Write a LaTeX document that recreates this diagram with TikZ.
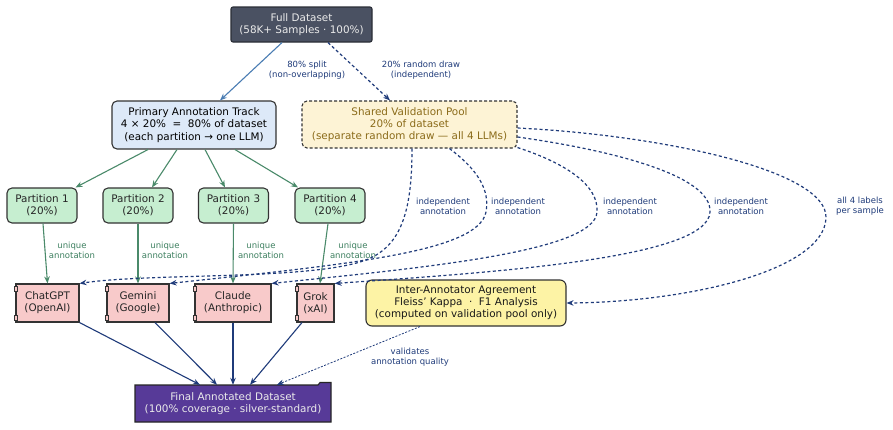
\documentclass[tikz,border=0pt]{standalone}
\usepackage{fontspec}
\setmainfont{DejaVu Sans}
\usetikzlibrary{arrows.meta}
\definecolor{fullfill}{HTML}{4A5162}
\definecolor{fulldraw}{HTML}{2A2E36}
\definecolor{primfill}{HTML}{DDE9F8}
\definecolor{poolfill}{HTML}{FDF3D5}
\definecolor{pooltext}{HTML}{8B6B1A}
\definecolor{partfill}{HTML}{C6EED0}
\definecolor{llmfill}{HTML}{F8CACA}
\definecolor{iaafill}{HTML}{FDF3A5}
\definecolor{finalfill}{HTML}{573A98}
\definecolor{navy}{HTML}{1F3B7A}
\definecolor{steel}{HTML}{4A7DB3}
\definecolor{grn}{HTML}{4A8A6A}
\definecolor{grntext}{HTML}{3E8060}
\definecolor{bord}{HTML}{333333}
\tikzset{
  nodefont/.style={font=\fontsize{10.4}{12.2}\selectfont},
  box/.style={nodefont, draw=bord, line width=1.1pt, align=center, inner sep=0pt},
  fullbox/.style={box, fill=fullfill, draw=fulldraw, text=white!92!black, rounded corners=2pt, minimum width=141pt, minimum height=35pt},
  primbox/.style={box, fill=primfill, rounded corners=5pt, minimum width=164pt, minimum height=48pt},
  poolbox/.style={box, fill=poolfill, text=pooltext, dash pattern=on 3pt off 2pt, rounded corners=5pt, minimum width=215pt, minimum height=47pt},
  partbox/.style={box, fill=partfill, text=black!85, rounded corners=5pt, minimum width=70pt, minimum height=35pt},
  llmbox/.style={box, fill=llmfill, text=black!85, minimum height=38pt},
  iaabox/.style={box, fill=iaafill, text=black!90, rounded corners=6pt, minimum width=200pt, minimum height=46pt},
  finaltext/.style={nodefont, text=white!92!black, align=center, inner sep=0pt, minimum width=196pt, minimum height=37pt},
  lab/.style={font=\fontsize{8.5}{10}\selectfont, align=center, inner sep=0pt, text=navy},
  glab/.style={lab, text=grntext},
  tip/.style={-{Stealth[length=7pt,width=5.5pt]}},
  bluearrow/.style={tip, draw=steel, line width=1.1pt},
  grnarrow/.style={tip, draw=grn, line width=1.1pt},
  navyarrow/.style={tip, draw=navy, line width=1.1pt},
  dasharrow/.style={tip, draw=navy, line width=1.2pt, dash pattern=on 3pt off 2.5pt},
  dotarrow/.style={tip, draw=navy, line width=0.8pt, dash pattern=on 2pt off 1.5pt},
}
\begin{document}
\begin{tikzpicture}[x=1pt,y=-1pt]
\useasboundingbox (0,0) rectangle (893,429);
\fill[white] (0,0) rectangle (893,429);

% nodes
\node[fullbox] (full) at (301.5,24.5) {Full Dataset\\(58K+ Samples · 100\%)};
\node[primbox] (primary) at (194,125) {Primary Annotation Track\\4 × 20\%\ \ =\ \ 80\% of dataset\\(each partition → one LLM)};
\node[poolbox] (pool) at (409.5,124.5) {Shared Validation Pool\\20\% of dataset\\(separate random draw — all 4 LLMs)};

\node[partbox] (p1) at (42,205.5) {Partition 1\\(20\%)};
\node[partbox] (p2) at (138,205.5) {Partition 2\\(20\%)};
\node[partbox] (p3) at (233.5,205.5) {Partition 3\\(20\%)};
\node[partbox] (p4) at (330,205.5) {Partition 4\\(20\%)};

\node[llmbox, minimum width=63pt] (chatgpt) at (47.5,303) {ChatGPT\\(OpenAI)};
\node[llmbox, minimum width=62pt] (gemini) at (138,303) {Gemini\\(Google)};
\node[llmbox, minimum width=76pt] (claude) at (233,303) {Claude\\(Anthropic)};
\node[llmbox, minimum width=37pt] (grok) at (315.5,303) {Grok\\(xAI)};
\foreach \n in {chatgpt,gemini,claude,grok}{
  \draw[fill=llmfill, draw=bord, line width=0.8pt] ([xshift=-1.5pt,yshift=-2.5pt]\n.north west) rectangle ++(3pt,-5pt);
  \draw[fill=llmfill, draw=bord, line width=0.8pt] ([xshift=-1.5pt,yshift=2.5pt]\n.south west) rectangle ++(3pt,5pt);
}

\node[iaabox] (iaa) at (466,303) {Inter-Annotator Agreement\\Fleiss{\char39} Kappa\ \ ·\ \ F1 Analysis\\(computed on validation pool only)};

\draw[fill=finalfill, draw=black!85, line width=1.1pt] (135,385) -- (318,385) -- (320,382.5) -- (331,382.5) -- (331,422) -- (135,422) -- cycle;
\node[finaltext] (final) at (233,403.5) {Final Annotated Dataset\\(100\% coverage · silver-standard)};

% top edges
\draw[bluearrow] ([xshift=-19.5pt]full.south) -- ([xshift=26pt]primary.north);
\draw[dasharrow] ([xshift=26.5pt]full.south) -- ([xshift=-19.5pt]pool.north);
\node[lab] (l80) at (307,70) {80\% split\\(non-overlapping)};
\node[lab] (l20) at (421,70) {20\% random draw\\(independent)};

% primary -> partitions
\draw[grnarrow] ([xshift=-46pt]primary.south) -- ([xshift=-2pt]p1.north east);
\draw[grnarrow] ([xshift=-17pt]primary.south) -- ([xshift=14pt]p2.north);
\draw[grnarrow] ([xshift=11pt]primary.south) -- ([xshift=-8.5pt]p3.north);
\draw[grnarrow] ([xshift=41pt]primary.south) -- ([xshift=-32pt]p4.north);

% partitions -> LLMs
\draw[grnarrow] ([xshift=1pt]p1.south) -- (chatgpt.north);
\draw[grnarrow] (p2.south) -- (gemini.north);
\draw[grnarrow] (p3.south) -- (claude.north);
\draw[grnarrow] ([xshift=-2pt]p4.south) -- ([xshift=4.5pt]grok.north);
\node[glab] (u1) at (72,250.5) {unique\\annotation};
\node[glab] (u2) at (165,250.5) {unique\\annotation};
\node[glab] (u3) at (261,250.5) {unique\\annotation};
\node[glab] (u4) at (353,250.5) {unique\\annotation};

% pool -> LLMs (dashed curves)
\draw[dasharrow] ([xshift=2.5pt]pool.south) .. controls (412,215) and (400,250) .. (360,262) .. controls (300,280) and (150,273) .. (chatgpt.north east);
\draw[dasharrow] ([xshift=40pt]pool.south) .. controls (478,170) and (490,190) .. (486,212) .. controls (478,252) and (350,264) .. (gemini.north east);
\draw[dasharrow] ([yshift=1pt]pool.south east) .. controls (565,163) and (599,185) .. (597,212) .. controls (595,252) and (420,268) .. (claude.north east);
\draw[dasharrow] ([yshift=-12.5pt]pool.east) .. controls (610,150) and (712,175) .. (710,212) .. controls (708,258) and (500,272) .. (grok.north east);
\draw[dasharrow] ([yshift=-3.5pt]pool.east) .. controls (660,135) and (828,170) .. (826,218) .. controls (824,270) and (690,302) .. (iaa.east);
\node[lab] (i1) at (443,206) {independent\\annotation};
\node[lab] (i2) at (518,206) {independent\\annotation};
\node[lab] (i3) at (630,206) {independent\\annotation};
\node[lab] (i4) at (741,206) {independent\\annotation};
\node[lab] (i5) at (860,206) {all 4 labels\\per sample};

% LLMs -> final
\draw[navyarrow] (chatgpt.south east) -- ([xshift=-33pt]final.north);
\draw[navyarrow] ([xshift=17pt]gemini.south) -- ([xshift=-16pt]final.north);
\draw[navyarrow] (claude.south) -- (final.north);
\draw[navyarrow] ([xshift=-13.5pt]grok.south) -- ([xshift=17pt]final.north);
\draw[dotarrow] ([xshift=-46pt]iaa.south) -- ([xshift=44pt]final.north);
\node[lab] (val) at (410,357) {validates\\annotation quality};
\end{tikzpicture}
\end{document}
